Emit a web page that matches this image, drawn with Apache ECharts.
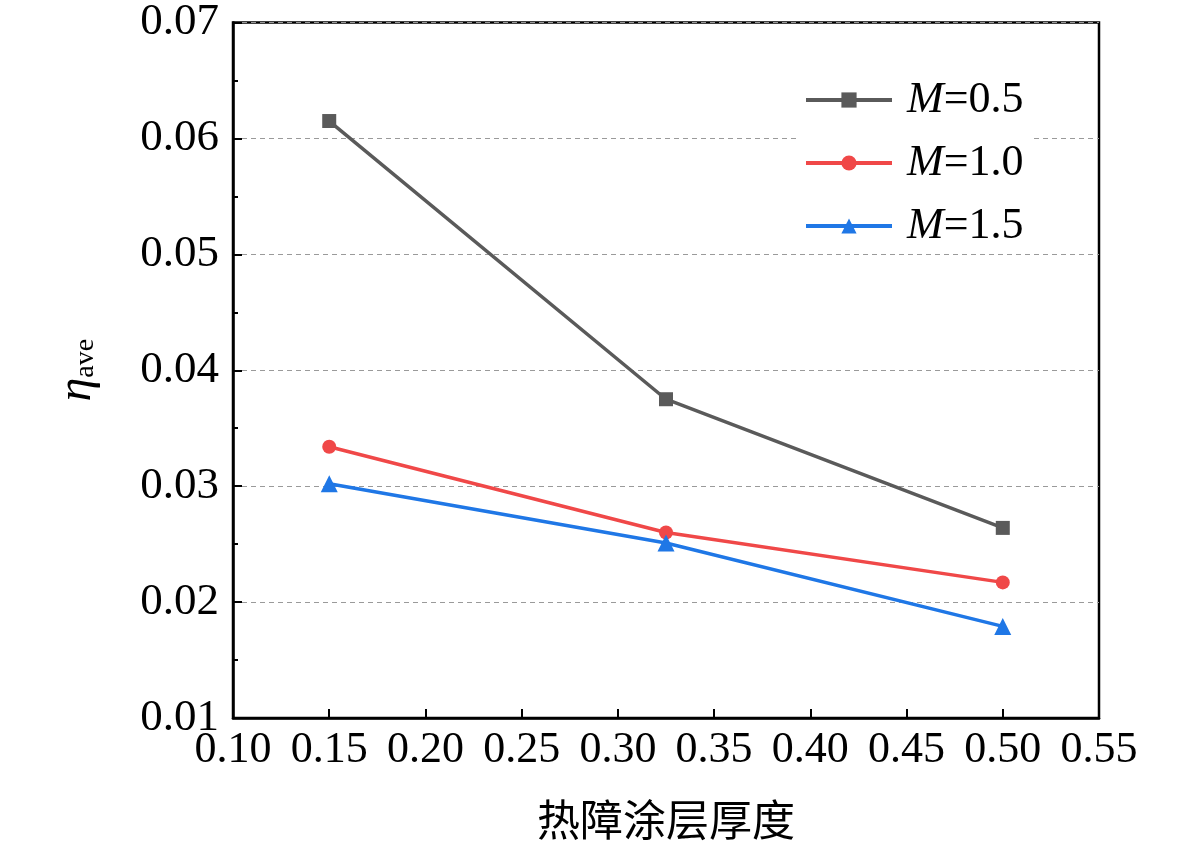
<!DOCTYPE html>
<html><head><meta charset="utf-8">
<script src="https://cdn.jsdelivr.net/npm/echarts@6/dist/echarts.min.js"></script>
<style>html,body{margin:0;padding:0;background:#fff}#c{width:1181px;height:848px}</style>
</head><body><div id="c"></div>
<script>
var thickness = [0.15, 0.325, 0.50];
var seriesNames = ['M=0.5', 'M=1.0', 'M=1.5'];
var m05 = [0.0615, 0.0375, 0.0264];
var m10 = [0.0334, 0.0260, 0.0217];
var m15 = [0.0302, 0.0251, 0.0179];
var colors = ['#5a5a5a', '#f04848', '#1f77e6'];
var symbols = ['rect', 'circle', 'triangle'];
var serif = '"Liberation Serif","Times New Roman",serif';

function pts(arr){ return thickness.map(function(x,i){ return [x, arr[i]]; }); }
var dataSets = [m05, m10, m15];

var chart = echarts.init(document.getElementById('c'));
chart.setOption({
  animation: false,
  backgroundColor: '#fff',
  grid: { left: 233, right: 82, top: 22, bottom: 130, show: true, borderColor: '#000', borderWidth: 2.5, backgroundColor: 'transparent' },
  legend: {
    orient: 'vertical', left: 798, top: 72, itemWidth: 86, itemHeight: 19, itemGap: 19,
    backgroundColor: '#fff', padding: [6, 8, 6, 6],
    data: seriesNames,
    lineStyle: { width: 4 },
    formatter: function(n){ return '{i|M}{n|' + n.slice(1) + '}'; },
    textStyle: {
      fontFamily: serif, fontSize: 44, color: '#000', padding: [0,0,0,10],
      rich: { i: { fontFamily: serif, fontSize: 44, fontStyle: 'italic', color: '#000' },
              n: { fontFamily: serif, fontSize: 44, color: '#000' } }
    }
  },
  xAxis: {
    type: 'value', min: 0.10, max: 0.55, interval: 0.05,
    name: '热障涂层厚度', nameLocation: 'middle', nameGap: 80,
    nameTextStyle: { fontFamily: '"Noto Sans CJK SC"', fontSize: 43, color: '#000' },
    axisLine: { lineStyle: { color: '#000', width: 2.5 } },
    axisTick: { inside: true, length: 9, lineStyle: { color: '#000', width: 2 } },
    axisLabel: { fontFamily: serif, fontSize: 44, color: '#000', margin: 10, formatter: function(v){ return v.toFixed(2); } },
    splitLine: { show: false }
  },
  yAxis: {
    type: 'value', min: 0.01, max: 0.07, interval: 0.01,
    name: '{e|η}{s|ave}', nameLocation: 'middle', nameGap: 132, nameRotate: 90,
    nameTextStyle: {
      rich: { e: { fontFamily: serif, fontSize: 48, fontStyle: 'italic', color: '#000' },
              s: { fontFamily: serif, fontSize: 28, color: '#000', padding: [18, 0, 0, 0] } }
    },
    axisLine: { lineStyle: { color: '#000', width: 2.5 } },
    axisTick: { inside: true, length: 9, lineStyle: { color: '#000', width: 2 } },
    minorTick: { show: true, splitNumber: 2, length: 5, lineStyle: { color: '#000', width: 2 } },
    axisLabel: { fontFamily: serif, fontSize: 45, color: '#000', margin: 14, formatter: function(v){ return v.toFixed(2); } },
    splitLine: { show: true, lineStyle: { color: '#9a9a9a', type: [5, 4], width: 1 } }
  },
  series: dataSets.map(function(d, i){
    return {
      name: seriesNames[i], type: 'line', data: pts(d),
      symbol: symbols[i], symbolSize: i === 2 ? 17 : 14,
      lineStyle: { color: colors[i], width: 3.5 },
      itemStyle: { color: colors[i] }
    };
  })
});
</script></body></html>
